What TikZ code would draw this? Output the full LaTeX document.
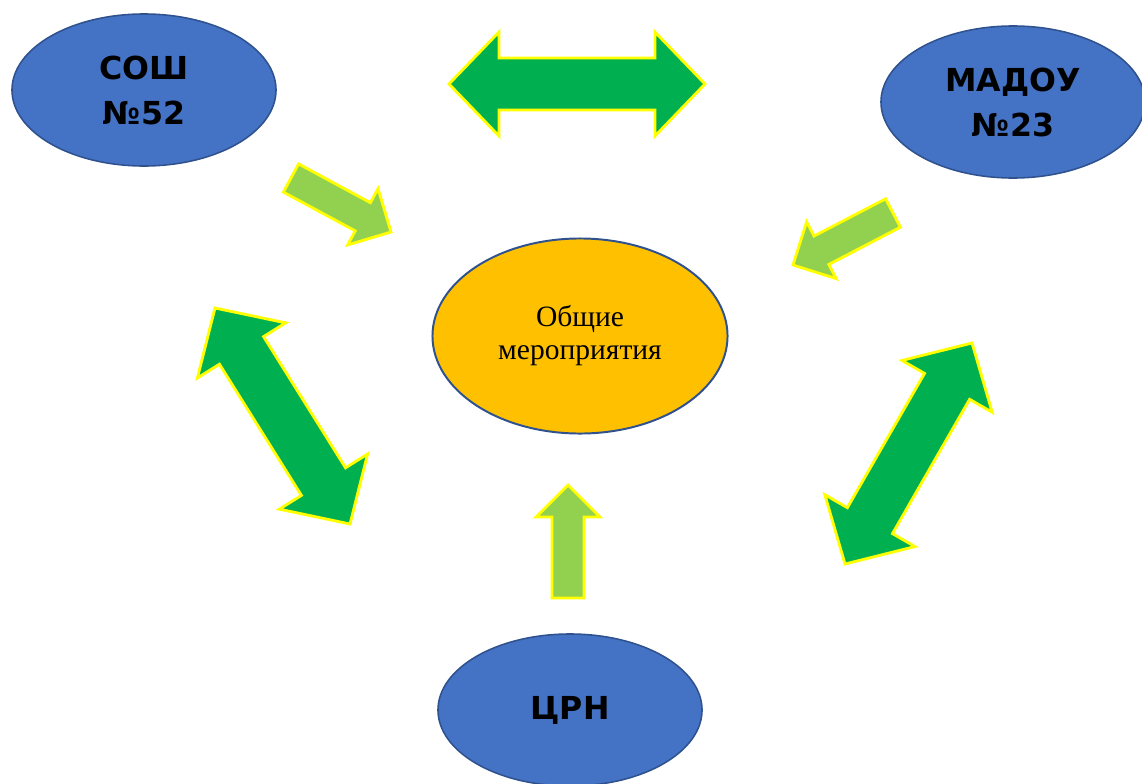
\documentclass[tikz,border=0pt]{standalone}
\usepackage{fontspec}
\setmainfont{Liberation Serif}
\newfontfamily\blocksans{DejaVu Sans}
\usetikzlibrary{calc,shapes.geometric}
\definecolor{myblue}{RGB}{68,114,196}
\definecolor{myedge}{RGB}{47,82,143}
\definecolor{myorange}{RGB}{255,192,0}
\definecolor{mygreen}{RGB}{0,176,80}
\definecolor{mylime}{RGB}{146,208,80}
\definecolor{myyellow}{RGB}{255,255,0}

\newcommand{\onearrow}[4]{%
  \coordinate (#4) at ($(#3)!0.8cm!(#2)$);
  \draw[#1] ($(#2)!0.4cm!90:(#3)$) -- ($(#4)!0.4cm!90:(#3)$) -- ($(#4)!0.8cm!90:(#3)$)
    -- (#3) -- ($(#4)!0.8cm!-90:(#3)$) -- ($(#4)!0.4cm!-90:(#3)$) -- ($(#2)!0.4cm!-90:(#3)$) -- cycle;}
\newcommand{\twoarrow}[5]{%
  \coordinate (#4) at ($(#2)!1.25cm!(#3)$);
  \coordinate (#5) at ($(#3)!1.25cm!(#2)$);
  \draw[#1] (#2) -- ($(#4)!1.3cm!90:(#3)$) -- ($(#4)!0.65cm!90:(#3)$) -- ($(#5)!0.65cm!90:(#3)$)
    -- ($(#5)!1.3cm!90:(#3)$) -- (#3) -- ($(#5)!1.3cm!-90:(#3)$) -- ($(#5)!0.65cm!-90:(#3)$)
    -- ($(#4)!0.65cm!-90:(#3)$) -- ($(#4)!1.3cm!-90:(#3)$) -- cycle;}

\begin{document}
\begin{tikzpicture}[x=0.025cm,y=-0.025cm,inner sep=0pt]
\tikzstyle{school}=[ellipse, minimum width=6.6cm, minimum height=3.8cm, fill=myblue, draw=myedge, line width=1.1pt, align=center, font=\blocksans\bfseries\fontsize{22.5}{32}\selectfont]
\tikzstyle{common}=[ellipse, minimum width=7.375cm, minimum height=4.875cm, fill=myorange, draw=myedge, line width=1.4pt, align=center, font=\fontsize{21}{23.5}\selectfont]
\tikzstyle{big}=[fill=mygreen, draw=myyellow, line width=2pt]
\tikzstyle{small}=[fill=mylime, draw=myyellow, line width=2pt]
\useasboundingbox (0,0) rectangle (1142,783);

\node[school] (sosh) at (144,90) {СОШ\\№52};
\node[school] (madou) at (1013,102) {МАДОУ\\№23};
\node[common] (events) at (580,336) {Общие\\мероприятия};
\node[school] (crn) at (570,710) {ЦРН};

\coordinate (topl) at (449,84);
\coordinate (topr) at (705,84);
\coordinate (leftu) at (215,308);
\coordinate (leftd) at (350,524);
\coordinate (rightd) at (845,564);
\coordinate (rightu) at (972,343);
\coordinate (soshtail) at (291,178);
\coordinate (soshtip) at (391,232);
\coordinate (madoutail) at (893,213);
\coordinate (madoutip) at (793,265);
\coordinate (crntail) at (568,598);
\coordinate (crntip) at (568,485);

\twoarrow{big}{topl}{topr}{topla}{topra}
\twoarrow{big}{leftu}{leftd}{leftua}{leftda}
\twoarrow{big}{rightd}{rightu}{rightda}{rightua}
\onearrow{small}{soshtail}{soshtip}{soshbase}
\onearrow{small}{madoutail}{madoutip}{madoubase}
\onearrow{small}{crntail}{crntip}{crnbase}
\end{tikzpicture}
\end{document}
